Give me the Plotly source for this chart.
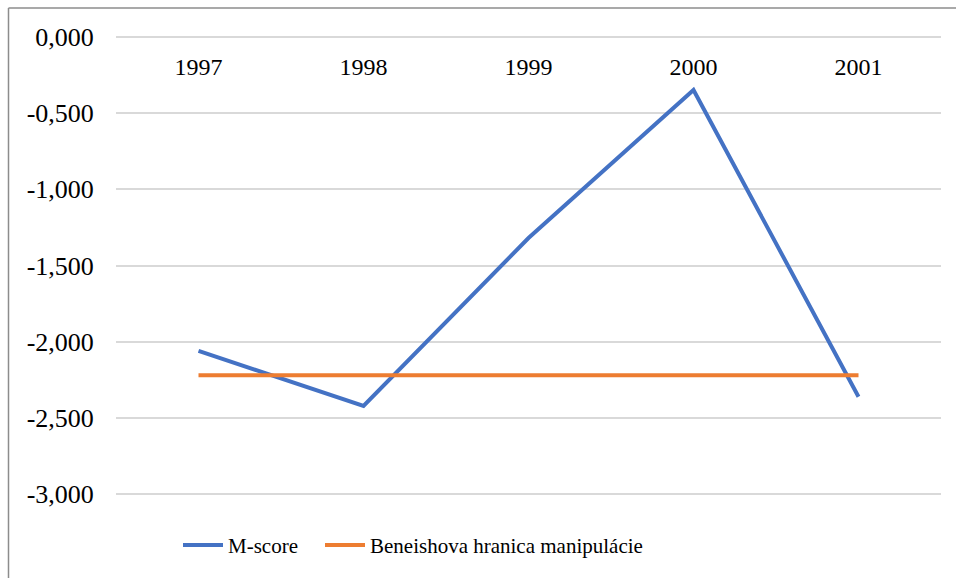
import plotly.graph_objects as go

years = ["1997", "1998", "1999", "2000", "2001"]
m_score = [-2.06, -2.42, -1.32, -0.35, -2.36]
beneish_threshold = [-2.22, -2.22, -2.22, -2.22, -2.22]
y_ticks = [0, -0.5, -1, -1.5, -2, -2.5, -3]
y_tick_labels = ["0,000", "-0,500", "-1,000", "-1,500", "-2,000", "-2,500", "-3,000"]

W, H = 956, 578
Y_LO, Y_HI = -3.05, 0.05
PX_PER_UNIT = 152.4
L, R = 116, 15
T = 37 - Y_HI * PX_PER_UNIT
B = H - (494 + (-3 - Y_LO) * PX_PER_UNIT)
FONT = "Liberation Serif"

fig = go.Figure()
fig.add_trace(go.Scatter(x=years, y=m_score, mode="lines", name="M-score",
                         line=dict(color="#4472C4", width=4), legend="legend"))
fig.add_trace(go.Scatter(x=years, y=beneish_threshold, mode="lines",
                         name="Beneishova hranica manipulácie",
                         line=dict(color="#ED7D31", width=4), legend="legend2"))

pw = W - L - R
ph = H - T - B
def px_x(p):
    return (p - L) / pw
def px_y(p):
    return (H - B - p) / ph

shapes = [
    dict(type="line", xref="paper", yref="paper", x0=px_x(8.5), x1=px_x(960),
         y0=px_y(8.5), y1=px_y(8.5), line=dict(color="#8c8c8c", width=1.5)),
    dict(type="line", xref="paper", yref="paper", x0=px_x(8.5), x1=px_x(8.5),
         y0=px_y(8.5), y1=px_y(590), line=dict(color="#8c8c8c", width=1.5)),
]

legend_common = dict(orientation="h", xanchor="left", yanchor="middle",
                     y=px_y(545), font=dict(family=FONT, size=21),
                     itemwidth=40, bgcolor="rgba(0,0,0,0)")

fig.update_layout(
    template="none",
    width=W, height=H,
    margin=dict(l=L, r=R, t=T, b=B, autoexpand=False),
    paper_bgcolor="white", plot_bgcolor="white",
    font=dict(family=FONT, size=24, color="black"),
    showlegend=True,
    legend=dict(x=px_x(178), **legend_common),
    legend2=dict(x=px_x(320), **legend_common),
    shapes=shapes,
    xaxis=dict(type="category", anchor="free", position=px_y(37), side="bottom",
               showgrid=False, showline=False, zeroline=False, automargin=False,
               ticks="outside", ticklen=9,
               tickcolor="rgba(0,0,0,0)",
               range=[-0.5, 4.5], tickfont=dict(family=FONT, size=24)),
    yaxis=dict(range=[Y_LO, Y_HI], tickvals=y_ticks, ticktext=y_tick_labels,
               showgrid=True, gridcolor="#d9d9d9", gridwidth=1.5,
               zeroline=False, showline=False, automargin=False,
               ticks="outside", ticklen=16, tickcolor="rgba(0,0,0,0)",
               tickfont=dict(family=FONT, size=26)),
)

fig.write_html("out.html", config={"displayModeBar": False},
               post_script="document.body.style.margin='0';document.body.style.padding='0';")
